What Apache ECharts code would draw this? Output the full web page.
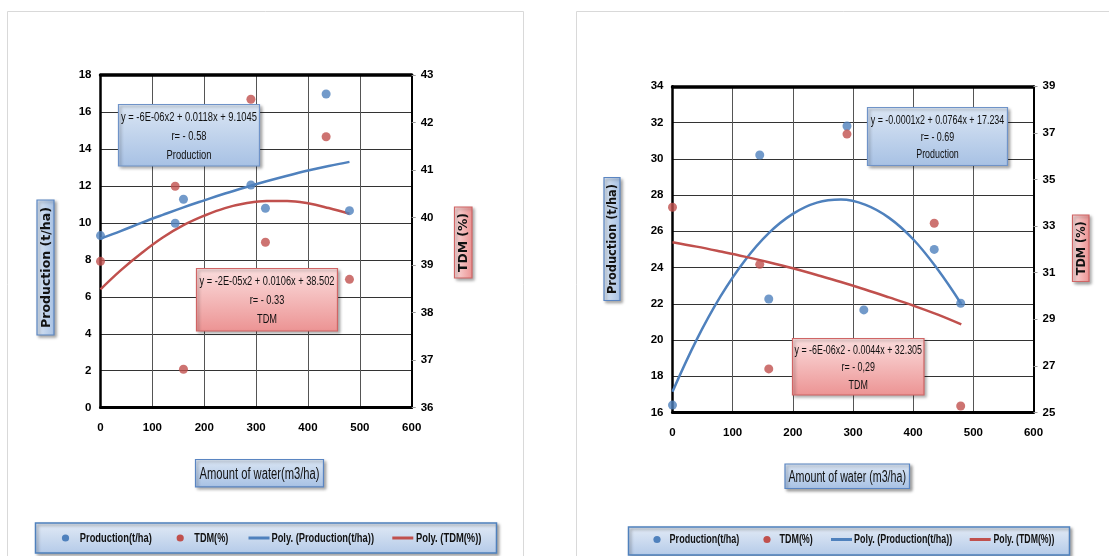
<!DOCTYPE html>
<html>
<head>
<meta charset="utf-8">
<script src="https://cdn.jsdelivr.net/npm/echarts@6/dist/echarts.min.js"></script>
<style>
html,body{margin:0;padding:0;background:#fff}
#chart{width:1109px;height:556px}
</style>
</head>
<body>
<div id="chart"></div>
<script>
// ---- first trial: water applied (m3/ha) vs production and TDM
const waterA = [0, 144, 160, 290, 318, 435, 480];
const prodA  = [9.31, 9.98, 11.28, 12.05, 10.79, 16.97, 10.66];
const tdmA   = [39.08, 40.66, 36.81, 42.49, 39.48, 41.70, 38.70];

// ---- second trial
const waterB    = [0, 145, 160, 290, 318, 435, 479];
const prodB     = [16.41, 30.21, 22.26, 31.81, 21.66, 25.00, 22.03];
const tdmWaterB = [0, 145, 160, 290, 435, 479];
const tdmB      = [33.81, 31.36, 26.87, 36.95, 33.12, 25.28];

// ---- polynomial trend curves, sampled along the water axis
const fitX     = [0, 40, 80, 120, 160, 200, 240, 280, 320, 360, 400, 440, 480];
const prodFitA = [9.15, 9.57, 10.01, 10.43, 10.84, 11.22, 11.59, 11.93, 12.25, 12.55, 12.83, 13.08, 13.30];
const tdmFitA  = [38.49, 38.90, 39.26, 39.58, 39.84, 40.04, 40.20, 40.30, 40.35, 40.35, 40.30, 40.20, 40.08];
const prodFitB = [17.15, 20.01, 22.42, 24.38, 25.90, 26.96, 27.58, 27.75, 27.47, 26.74, 25.56, 23.93, 21.99];
const tdmFitB  = [32.31, 32.12, 31.91, 31.69, 31.45, 31.19, 30.90, 30.60, 30.28, 29.94, 29.59, 29.21, 28.78];

// ---- axis ticks
const tdmTicksB = [25, 27, 29, 31, 33, 35, 37, 39];

// ---- texts
const seriesNames = ['Production(t/ha)', 'TDM(%)', 'Poly. (Production(t/ha))', 'Poly. (TDM(%))'];
const eqA    = ['y = -6E-06x2 + 0.0118x + 9.1045', 'r= - 0.58', 'Production'];
const eqTdmA = ['y = -2E-05x2 + 0.0106x + 38.502', 'r= - 0.33', 'TDM'];
const eqB    = ['y = -0.0001x2 + 0.0764x + 17.234', 'r= - 0.69', 'Production'];
const eqTdmB = ['y = -6E-06x2 - 0.0044x + 32.305', 'r= - 0,29', 'TDM'];
const yNameProd = 'Production (t/ha)';
const yNameTdm  = 'TDM (%)';
const xNameA = 'Amount of water(m3/ha)';
const xNameB = 'Amount of water (m3/ha)';

const BLUE = '#4f81bd';
const RED = '#c0504d';
const SANS = 'Liberation Sans';
const WIDE = 'DejaVu Sans';

const pairs = (xs, ys) => xs.map((x, i) => [x, ys[i]]);

// horizontal squeeze so a string of a given font spans a given width
const measureCtx = document.createElement('canvas').getContext('2d');
function squeeze(text, size, weight, family, width) {
  measureCtx.font = weight + ' ' + size + 'px "' + family + '"';
  return width / measureCtx.measureText(text).width;
}

const chart = echarts.init(document.getElementById('chart'), null, {renderer: 'canvas'});

const labelStyle = {color: '#000', fontFamily: SANS, fontSize: 11.5, fontWeight: 'bold'};

function xAxes(gridIndex) {
  return [
    {
      type: 'value', gridIndex, min: 0, max: 600, interval: 100, position: 'bottom',
      axisLine: {show: true, onZero: false, lineStyle: {color: '#000', width: 3}},
      axisTick: {show: false},
      axisLabel: Object.assign({margin: 14}, labelStyle),
      splitLine: {show: true, lineStyle: {color: '#555', width: 1}}
    },
    {
      type: 'value', gridIndex, min: 0, max: 600, interval: 100, position: 'top',
      axisLine: {show: true, onZero: false, lineStyle: {color: '#000', width: 3.5}},
      axisTick: {show: false}, axisLabel: {show: false}, splitLine: {show: false}
    }
  ];
}

function leftY(gridIndex, min, max, interval) {
  return {
    type: 'value', gridIndex, min, max, interval, position: 'left',
    axisLine: {show: true, onZero: false, lineStyle: {color: '#000', width: 2.5}},
    axisTick: {show: false},
    axisLabel: Object.assign({margin: 9}, labelStyle),
    splitLine: {show: true, lineStyle: {color: '#333', width: 1}}
  };
}

function rightY(gridIndex, min, max, extra) {
  return Object.assign({
    type: 'value', gridIndex, min, max, position: 'right',
    axisLine: {show: true, onZero: false, lineStyle: {color: '#000', width: 2}},
    axisTick: {show: true, inside: false, length: 4, lineStyle: {color: '#999'}},
    axisLabel: Object.assign({margin: 9}, labelStyle),
    splitLine: {show: false}
  }, extra);
}

function seriesFor(xi, yl, yr, wx, prod, wt, tdm, prodFit, tdmFit) {
  return [
    {name: seriesNames[2], type: 'line', xAxisIndex: xi, yAxisIndex: yl, data: pairs(fitX, prodFit),
     smooth: 0.4, showSymbol: false, symbol: 'none', color: BLUE, lineStyle: {color: BLUE, width: 2.5}, z: 3},
    {name: seriesNames[3], type: 'line', xAxisIndex: xi, yAxisIndex: yr, data: pairs(fitX, tdmFit),
     smooth: 0.4, showSymbol: false, symbol: 'none', color: RED, lineStyle: {color: RED, width: 2.5}, z: 3},
    {name: seriesNames[0], type: 'scatter', xAxisIndex: xi, yAxisIndex: yl, data: pairs(wx, prod),
     symbol: 'circle', symbolSize: 9, color: BLUE, itemStyle: {color: BLUE}, z: 4},
    {name: seriesNames[1], type: 'scatter', xAxisIndex: xi, yAxisIndex: yr, data: pairs(wt, tdm),
     symbol: 'circle', symbolSize: 9, color: RED, itemStyle: {color: RED}, z: 4}
  ];
}

const blueFill = () => new echarts.graphic.LinearGradient(0, 0, 0, 1, [
  {offset: 0, color: '#dbe6f4'}, {offset: 1, color: '#a7c1e4'}]);
const redFill = () => new echarts.graphic.LinearGradient(0, 0, 0, 1, [
  {offset: 0, color: '#fbdede'}, {offset: 1, color: '#ec9393'}]);
const shadow = {shadowBlur: 3, shadowOffsetX: 2, shadowOffsetY: 2, shadowColor: 'rgba(0,0,0,0.35)'};

function box(x1, y1, x2, y2, fill, stroke, z) {
  return {type: 'rect', z, shape: {x: x1, y: y1, width: x2 - x1, height: y2 - y1},
    style: Object.assign({fill, stroke, lineWidth: 1.2}, shadow)};
}
function fitText(text, cx, cy, size, weight, family, width, extra) {
  const s = squeeze(text.split('\n')[0], size, weight, family, width);
  return Object.assign({type: 'text', z: 21, x: cx, y: cy, scaleX: s,
    style: {text, x: 0, y: 0, align: 'center', verticalAlign: 'middle', fill: '#111',
      fontFamily: family, fontSize: size, fontWeight: weight}}, extra || {});
}
function eqBox(x1, y1, x2, y2, lines, fill, stroke, lh, firstLineW) {
  const t = fitText(lines.join('\n'), (x1 + x2) / 2, (y1 + y2) / 2 + 1, 12.5, 'normal', SANS, firstLineW);
  t.style.lineHeight = lh;
  return [box(x1, y1, x2, y2, fill, stroke, 20), t];
}
function vNameBox(x1, y1, x2, y2, text, fill, stroke, textW) {
  const w = x2 - x1, h = y2 - y1;
  const t = fitText(text, 0, 1, 12, 'bold', WIDE, textW);
  return {type: 'group', x: (x1 + x2) / 2, y: (y1 + y2) / 2, rotation: Math.PI / 2, z: 20,
    children: [
      {type: 'rect', z: 20, shape: {x: -h / 2, y: -w / 2, width: h, height: w},
        style: Object.assign({fill, stroke, lineWidth: 1.2}, shadow)},
      t
    ]};
}
function hNameBox(x1, y1, x2, y2, text, textW) {
  return [
    box(x1, y1, x2, y2, blueFill(), '#5a85c2', 20),
    fitText(text, (x1 + x2) / 2, (y1 + y2) / 2 + 1, 16, 'normal', SANS, textW)
  ];
}
const legendBg = (x1, y1, x2, y2) => ({type: 'rect', z: 1,
  shape: {x: x1, y: y1, width: x2 - x1, height: y2 - y1},
  style: Object.assign({fill: new echarts.graphic.LinearGradient(0, 0, 0, 1, [
    {offset: 0, color: '#e3ebf6'}, {offset: 1, color: '#b4cae8'}]), stroke: '#4f81bd', lineWidth: 1.5}, shadow)});

// key row: [marker centre x, text left x, text width] for each series name
function legendRow(cy, slots) {
  const out = [];
  slots.forEach((s, i) => {
    const color = i % 2 === 0 ? BLUE : RED;
    if (i < 2) {
      out.push({type: 'circle', z: 5, shape: {cx: s[0], cy, r: 3.6}, style: {fill: color}});
    } else {
      out.push({type: 'line', z: 5, shape: {x1: s[0] - 10.5, y1: cy, x2: s[0] + 10.5, y2: cy},
        style: {stroke: color, lineWidth: 3}});
    }
    const t = fitText(seriesNames[i], s[1], cy + 0.5, 12.5, 'bold', SANS, s[2]);
    t.style.align = 'left';
    t.z = 5;
    out.push(t);
  });
  return out;
}

const graphics = [
  // panel frames
  {type: 'rect', z: 0, shape: {x: 7.5, y: 11.5, width: 516, height: 560}, style: {fill: 'none', stroke: '#d9d9d9', lineWidth: 1}},
  {type: 'rect', z: 0, shape: {x: 576.5, y: 11.5, width: 560, height: 560}, style: {fill: 'none', stroke: '#d9d9d9', lineWidth: 1}},
  // keys
  legendBg(35.5, 523, 496.5, 553),
  legendBg(628.5, 527, 1069.5, 555),
  ...legendRow(538, [[65.5, 79.8, 72], [180.2, 194.3, 34], [259, 271.4, 102.6], [402.8, 416, 65.4]]),
  ...legendRow(539.5, [[657, 669.6, 69.7], [767, 779.5, 33.3], [841.5, 854, 98.2], [980.2, 993.5, 60.9]]),
  // equation boxes
  ...eqBox(118.5, 104.5, 259.5, 166, eqA, blueFill(), '#6f93c8', 19, 136),
  ...eqBox(196.5, 268.5, 337.5, 331, eqTdmA, redFill(), '#d06565', 19, 135),
  ...eqBox(867.5, 107.5, 1007.5, 165.5, eqB, blueFill(), '#6f93c8', 17.3, 133.5),
  ...eqBox(792.5, 338.5, 924, 395, eqTdmB, redFill(), '#d06565', 17.3, 127.5),
  // axis name boxes
  vNameBox(37, 200, 54, 335, yNameProd, blueFill(), '#5a85c2', 121),
  vNameBox(454.5, 207, 472, 278, yNameTdm, redFill(), '#d06565', 59),
  vNameBox(604, 177.5, 620, 300.5, yNameProd, blueFill(), '#5a85c2', 110),
  vNameBox(1072.5, 215, 1089, 281.5, yNameTdm, redFill(), '#d06565', 54),
  ...hNameBox(195.5, 459.5, 323.5, 486.8, xNameA, 120),
  ...hNameBox(785, 464, 909.5, 488.5, xNameB, 117.5)
];

const option = {
  backgroundColor: '#fff',
  animation: false,
  grid: [
    {left: 100.5, right: 1109 - 411.7, top: 75, bottom: 556 - 407.7, containLabel: false},
    {left: 672.5, right: 1109 - 1033.5, top: 86.3, bottom: 556 - 412.5, containLabel: false}
  ],
  xAxis: [...xAxes(0), ...xAxes(1)],
  yAxis: [
    leftY(0, 0, 18, 2),
    rightY(0, 36, 43, {interval: 1}),
    leftY(1, 16, 34, 2),
    rightY(1, 25, 39, {
      axisLabel: Object.assign({margin: 9, customValues: tdmTicksB}, labelStyle),
      axisTick: {show: true, inside: false, length: 4, lineStyle: {color: '#999'}, customValues: tdmTicksB}
    })
  ],
  series: [
    ...seriesFor(0, 0, 1, waterA, prodA, waterA, tdmA, prodFitA, tdmFitA),
    ...seriesFor(2, 2, 3, waterB, prodB, tdmWaterB, tdmB, prodFitB, tdmFitB)
  ],
  graphic: {elements: graphics}
};

chart.setOption(option);
</script>
</body>
</html>
